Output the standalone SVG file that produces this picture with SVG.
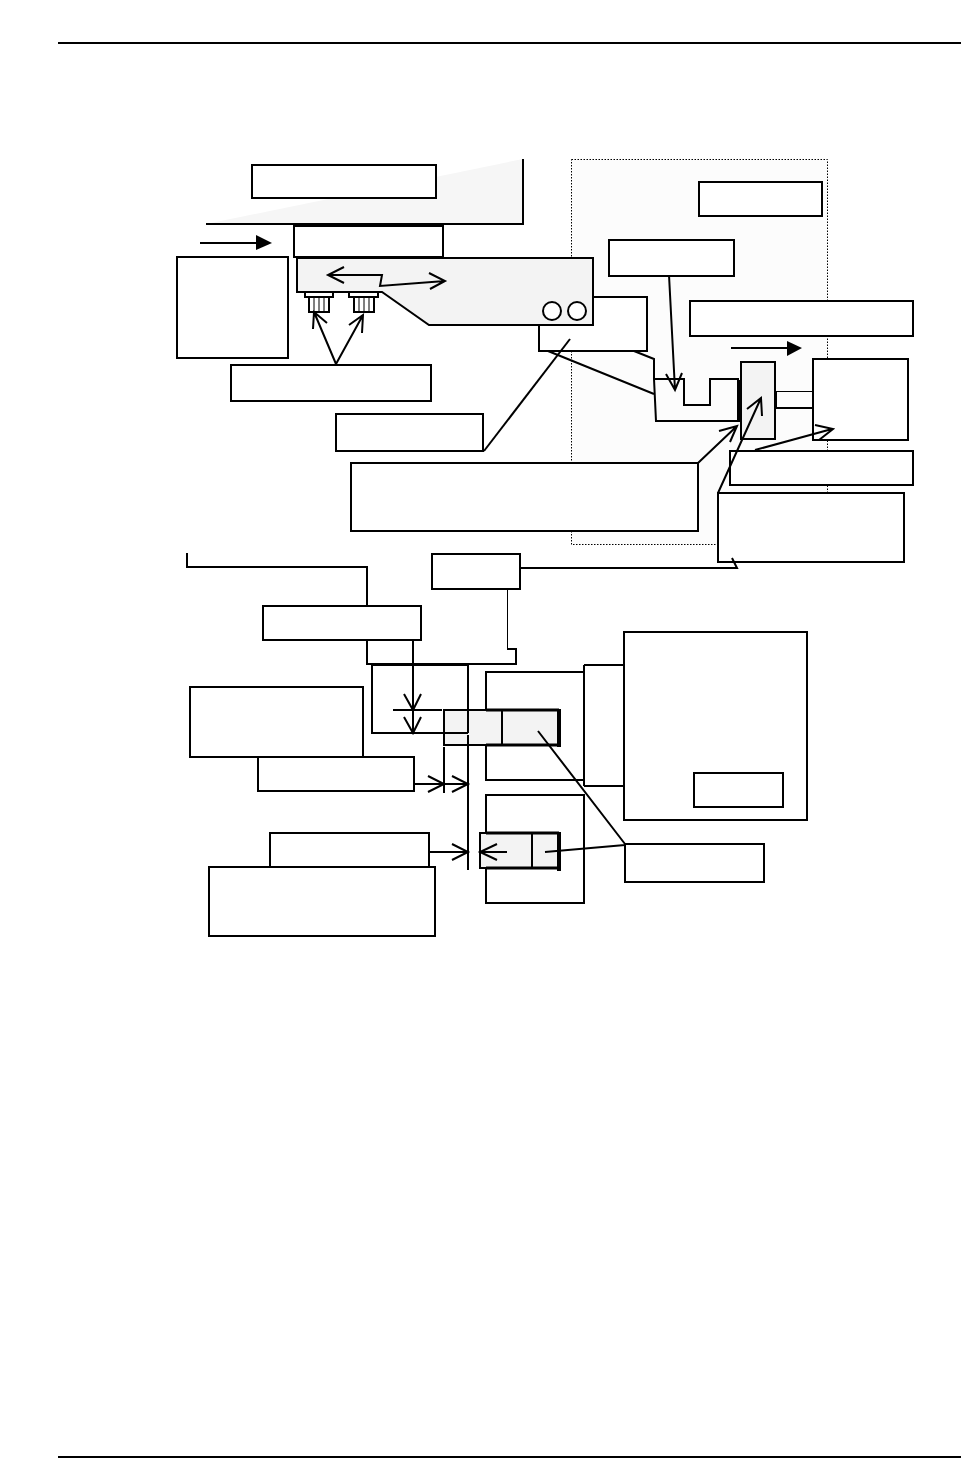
<svg xmlns="http://www.w3.org/2000/svg" width="961" height="1458" viewBox="0 0 961 1458">
<style>
.b{fill:#fff;stroke:#000;stroke-width:2}
.g{fill:#f3f3f3;stroke:#000;stroke-width:2}
.l{fill:none;stroke:#000;stroke-width:2}
.t{fill:none;stroke:#000;stroke-width:1}
.s{fill:#000;stroke:none}
</style>
<rect width="961" height="1458" fill="#fff"/>
<g id="rules"><path class="l" d="M58 43H961M58 1457H961"/></g>
<g id="zone"><rect x="571.5" y="159.5" width="256" height="385" fill="#fcfcfc" stroke="#000" stroke-width="1" stroke-dasharray="1.5 1.5"/></g>
<g id="wedge"><path d="M206 224L523 159V224Z" fill="#f6f6f6"/><path class="l" d="M206 224H523V159"/></g>
<g id="n1"><rect class="b" x="252" y="165" width="184" height="33"/></g>
<g id="n2"><rect class="b" x="294" y="226" width="149" height="31"/></g>
<g id="n3"><rect class="b" x="177" y="257" width="111" height="101"/></g>
<g id="n4"><rect class="b" x="539" y="297" width="108" height="54"/></g>
<g id="carriage"><path class="g" d="M297 258H593V325H429L382 292H297Z"/><circle class="b" cx="552" cy="311" r="9"/><circle class="b" cx="577" cy="311" r="9"/></g>
<g id="pin1"><rect class="b" x="305" y="292" width="28" height="5"/><rect class="b" x="309" y="297" width="20" height="15"/><path class="t" d="M314 297V312M319 297V312M324 297V312"/></g>
<g id="pin2"><rect class="b" x="349" y="292" width="29" height="5"/><rect class="b" x="354" y="297" width="20" height="15"/><path class="t" d="M359 297V312M364 297V312M369 297V312"/></g>
<g id="n5"><rect class="b" x="231" y="365" width="200" height="36"/></g>
<g id="n6"><rect class="b" x="336" y="414" width="147" height="37"/></g>
<g id="n7"><rect class="b" x="351" y="463" width="347" height="68"/></g>
<g id="n8"><rect class="b" x="699" y="182" width="123" height="34"/></g>
<g id="n9"><rect class="b" x="609" y="240" width="125" height="36"/></g>
<g id="n10"><rect class="b" x="690" y="301" width="223" height="35"/></g>
<g id="fork"><path class="l" d="M654 379H684V405H710V379H738V421H656L654 379"/><rect class="s" x="738" y="380" width="3" height="42"/></g>
<g id="slider"><rect class="g" x="741" y="362" width="34" height="77"/></g>
<g id="rod"><path fill="none" stroke="#000" stroke-width="1" d="M776 391.500H813"/><path class="l" d="M776 408H813"/><path fill="none" stroke="#000" stroke-width="2" d="M776 391V408"/></g>
<g id="n11"><rect class="b" x="813" y="359" width="95" height="81"/></g>
<g id="n12"><rect class="b" x="730" y="451" width="183" height="34"/></g>
<g id="n13"><rect class="b" x="718" y="493" width="186" height="69"/></g>
<g id="n14"><rect class="b" x="432" y="554" width="88" height="35"/></g>
<g id="n15"><rect class="b" x="263" y="606" width="158" height="34"/></g>
<g id="n16"><rect class="b" x="190" y="687" width="173" height="70"/></g>
<g id="n17"><rect class="b" x="258" y="757" width="156" height="34"/></g>
<g id="n18"><rect class="b" x="270" y="833" width="159" height="34"/></g>
<g id="n19"><rect class="b" x="209" y="867" width="226" height="69"/></g>
<g id="block1"><rect class="b" x="486" y="672" width="98" height="108"/></g>
<g id="block2"><rect class="b" x="486" y="795" width="98" height="108"/></g>
<g id="valve1"><rect class="g" x="444" y="710" width="115" height="35"/><path class="l" d="M502 710V745"/><path fill="none" stroke="#000" stroke-width="3" d="M486 710H559M486 745H559"/><rect class="s" x="557" y="709" width="4" height="38"/></g>
<g id="valve2"><rect class="g" x="480" y="833" width="79" height="35"/><path class="l" d="M532 833V868"/><path fill="none" stroke="#000" stroke-width="3" d="M486 833H559M486 868H559"/><rect class="s" x="557" y="832" width="4" height="39"/></g>
<g id="n20"><rect class="b" x="624" y="632" width="183" height="188"/></g>
<g id="n21"><rect class="b" x="694" y="773" width="89" height="34"/></g>
<g id="n22"><rect class="b" x="625" y="844" width="139" height="38"/></g>
<g id="connectors">
<path class="l" d="M200 243H257"/><path class="s" d="M256 235L272 243L256 250Z"/>
<path class="l" d="M731 348H788"/><path class="s" d="M787 341L802 348L787 356Z"/>
<path class="l" d="M344 267L328 275L344 283M328 275H382L380 286L445 281M429 273L445 281L430 289"/>
<path class="l" d="M336 364L314 312M313 329L314 312L327 323M336 364L363 315M349 325L363 315L362 333"/>
<path class="l" d="M484 451L570 339"/>
<path class="l" d="M548 351L654 394M634 351L654 359V379"/>
<path class="l" d="M669 275L675 390M666 374L675 390L682 373"/>
<path class="l" d="M698 463L737 426M719 431L737 426L730 442"/>
<path class="l" d="M718 493L761 398M747 409L761 398L762 416"/>
<path class="l" d="M755 450L832 429M815 425L833 429L819 440"/>
<path class="l" d="M521 568H737L732 558"/>
<path class="l" d="M187 553V567H367V606M367 640V664H516V649H507"/>
<path class="t" d="M507.500 649V589"/>
<path class="l" d="M413 640V733M404 694L413 710L421 694M404 717L413 733L421 717M393 710H442"/>
<path class="l" d="M468 665H372V733H468M468 665V733M468 735V870"/>
<path class="l" d="M584 665H624M584 665V786M584 786H624"/>
<path class="l" d="M414 784H468M428 776L444 784L428 792M452 776L468 784L452 792M444 747V793"/>
<path class="l" d="M429 852H468M452 844L468 852L452 860M507 852H480M497 844L480 852L497 860"/>
<path class="l" d="M538 731L625 844M545 852L625 845"/>
</g>
</svg>
